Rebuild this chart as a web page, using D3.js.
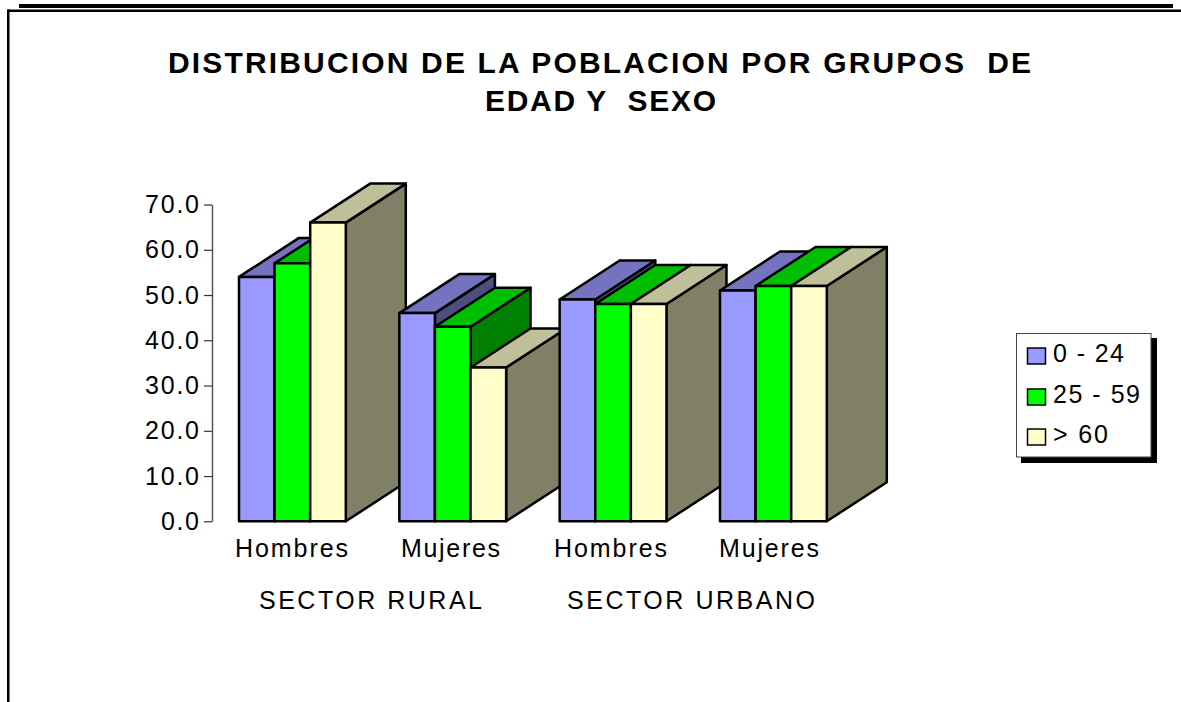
<!DOCTYPE html>
<html><head><meta charset="utf-8">
<script src="https://cdn.jsdelivr.net/npm/d3@7"></script>
<style>html,body{margin:0;padding:0;background:#fff}svg{display:block}text{font-family:"Liberation Sans",Arial,sans-serif;fill:#000}</style>
</head><body><svg id="c" width="1181" height="702"></svg>
<script>
const categories = ["Hombres","Mujeres","Hombres","Mujeres"];
const sectors = ["SECTOR RURAL","SECTOR URBANO"];
const seriesNames = ["0 - 24","25 - 59","> 60"];
const s0to24 = [54,46,49,51];
const s25to59 = [57,43,48,52];
const s60plus = [66,34,48,52];
const yTicks = [0,10,20,30,40,50,60,70];
const titleLines = ["DISTRIBUCION DE LA POBLACION POR GRUPOS  DE","EDAD Y  SEXO"];
const frontColors = ["#9999ff","#00ff00","#ffffcc"];
const topColors = ["#7373bf","#00bf00","#bfbf99"];
const sideColors = ["#4d4d80","#008000","#808066"];
const seriesValues = [s0to24,s25to59,s60plus];

const svg = d3.select("#c");
const y = d3.scaleLinear().domain([0,70]).range([521.3,204.5]);
const depthX = 60, depthY = -39;
const barW = 35.6;
const groupX = d3.scaleLinear().domain([0,3]).range([239,720]);

// frame
svg.append("rect").attr("x",19).attr("y",4).attr("width",1154).attr("height",4).attr("fill","#000");
svg.append("rect").attr("x",7).attr("y",9.5).attr("width",1174).attr("height",2.5).attr("fill","#000");
svg.append("rect").attr("x",7).attr("y",9.5).attr("width",2.5).attr("height",692.5).attr("fill","#000");

function label(g,t,xp,yp,size,width,anchor,weight){
  return g.append("text").attr("x",xp).attr("y",yp).attr("font-size",size)
    .attr("text-anchor",anchor||"start").attr("font-weight",weight||"normal")
    .attr("textLength",width).attr("lengthAdjust","spacing").attr("xml:space","preserve").style("white-space","pre").text(t);
}
label(svg,titleLines[0],168,73.3,30,863,"start","bold");
label(svg,titleLines[1],485,111,30,231,"start","bold");

// axis
const axis = svg.append("g").attr("transform","translate(212,0)")
  .call(d3.axisLeft(y).tickValues(yTicks).tickSize(8).tickSizeOuter(0).tickPadding(5).tickFormat(d3.format(".1f")));
axis.select(".domain").attr("stroke","#555").attr("stroke-width",1.5);
axis.selectAll(".tick line").attr("stroke","#333").attr("stroke-width",1.2);
axis.selectAll(".tick text").attr("font-size",25).attr("font-family","Liberation Sans").attr("textLength",d=>d>=10?54:38).attr("lengthAdjust","spacing").attr("fill","#000");

// bars: painter's order left to right
const stroke = {stroke:"#000","stroke-width":2.5,"stroke-linejoin":"round"};
const poly = (pts,fill)=>{const p=svg.append("polygon").attr("points",pts.map(q=>q.join(",")).join(" ")).attr("fill",fill);
  Object.entries(stroke).forEach(([k,v])=>p.attr(k,v));};
categories.forEach((c,i)=>{
  seriesValues.forEach((vals,s)=>{
    const x0 = groupX(i)+s*barW, x1 = x0+barW, yt = y(vals[i]), yb = y(0);
    poly([[x1,yb],[x1+depthX,yb+depthY],[x1+depthX,yt+depthY],[x1,yt]],sideColors[s]);
    poly([[x0,yt],[x0+depthX,yt+depthY],[x1+depthX,yt+depthY],[x1,yt]],topColors[s]);
    poly([[x0,yt],[x1,yt],[x1,yb],[x0,yb]],frontColors[s]);
  });
});

// category labels
const catPos = [[235,113],[401,99],[554,113],[719,100]];
categories.forEach((c,i)=>label(svg,c,catPos[i][0],556.7,25,catPos[i][1]));
label(svg,sectors[0],259,609,25,223);
label(svg,sectors[1],567,609,25,248);

// legend
svg.append("rect").attr("x",1021).attr("y",338).attr("width",136).attr("height",125).attr("fill","#000");
svg.append("rect").attr("x",1016.5).attr("y",333.5).attr("width",134.5).attr("height",123.5).attr("fill","#fff").attr("stroke","#444").attr("stroke-width",1);
const legY = [348,389,429], legW=[71,87,55];
seriesNames.forEach((n,i)=>{
  svg.append("rect").attr("x",1027.5).attr("y",legY[i]).attr("width",18).attr("height",16).attr("fill",frontColors[i]).attr("stroke","#000").attr("stroke-width",1.5);
  label(svg,n,1053,legY[i]+14,25,legW[i]);
});
</script></body></html>
